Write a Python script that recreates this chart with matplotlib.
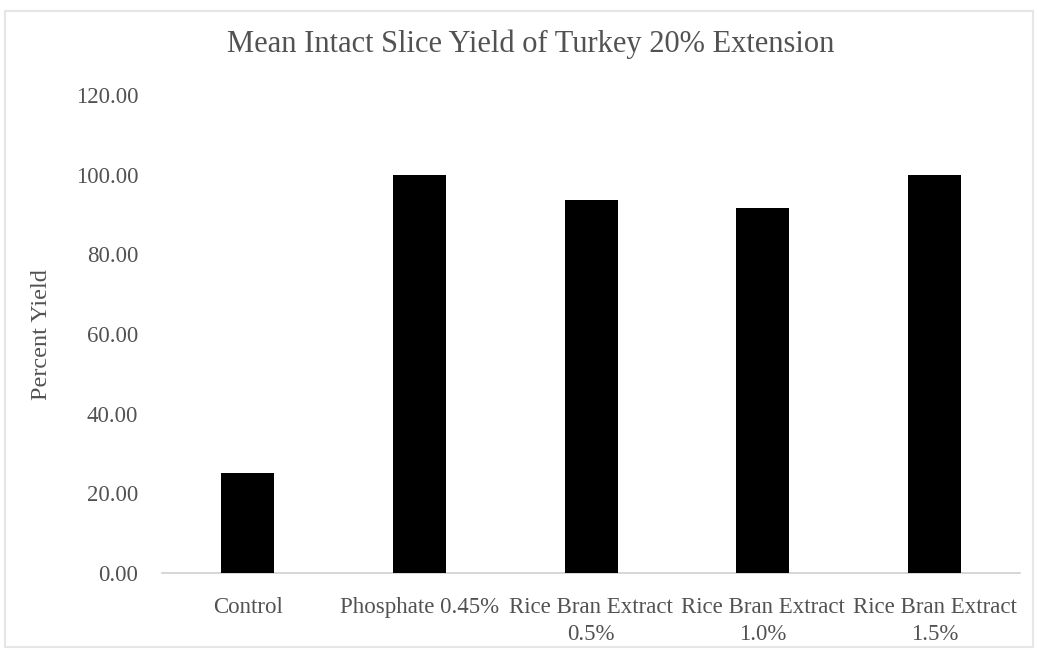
import matplotlib

matplotlib.use("Agg")
import matplotlib.pyplot as plt
from matplotlib.patches import Rectangle

SERIF = ["Liberation Serif", "DejaVu Serif"]
TEXT_GREY = "#525252"
AXIS_GREY = "#d0d0d0"

categories = [
    "Control",
    "Phosphate 0.45%",
    "Rice Bran Extract\n0.5%",
    "Rice Bran Extract\n1.0%",
    "Rice Bran Extract\n1.5%",
]
yield_pct = [25.0, 100.0, 93.75, 91.67, 100.0]
y_ticks = [0, 20, 40, 60, 80, 100, 120]

plt.rcParams["font.family"] = SERIF

fig = plt.figure(figsize=(10.38, 6.5), dpi=100, facecolor="white")
ax = fig.add_axes([0.156, 0.1185, 0.827, 0.735])

x = range(len(categories))
ax.bar(x, yield_pct, width=0.31, color="black", zorder=3)

ax.set_xlim(-0.5, len(categories) - 0.5)
ax.set_ylim(0, 120)
ax.set_yticks(y_ticks)
ax.set_yticklabels([f"{v:.2f}" for v in y_ticks])
ax.set_xticks(list(x))
ax.set_xticklabels(categories, linespacing=1.4)

ax.tick_params(axis="y", length=0, pad=17, labelsize=16.5, labelcolor=TEXT_GREY)
ax.tick_params(axis="x", length=0, pad=17, labelsize=16.5, labelcolor=TEXT_GREY)

for side in ("top", "right", "left"):
    ax.spines[side].set_visible(False)
ax.spines["bottom"].set_color(AXIS_GREY)
ax.spines["bottom"].set_linewidth(1.2)

ax.set_ylabel("Percent Yield", fontsize=17.5, color=TEXT_GREY)
ax.yaxis.set_label_coords(-0.128, 0.5)

fig.text(
    0.511,
    0.932,
    "Mean Intact Slice Yield of Turkey 20% Extension",
    ha="center",
    va="center",
    fontsize=22,
    color=TEXT_GREY,
)

# faint frame around the chart area
fig.patches.append(
    Rectangle(
        (0.005, 0.005),
        0.99,
        0.978,
        transform=fig.transFigure,
        fill=False,
        edgecolor="#e6e6e6",
        linewidth=1.5,
    )
)

fig.savefig("out.png", dpi=100, facecolor=fig.get_facecolor())
plt.close(fig)
